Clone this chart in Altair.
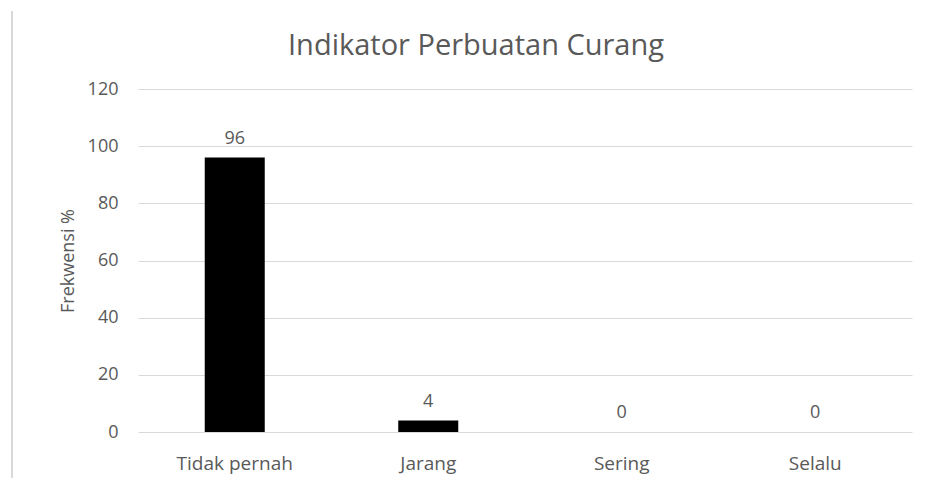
import altair as alt
import pandas as pd

categories = ["Tidak pernah", "Jarang", "Sering", "Selalu"]
values = [96, 4, 0, 0]
y_ticks = [0, 20, 40, 60, 80, 100, 120]
title_text = ["Indikator Perbuatan Curang"]

df = pd.DataFrame({"kategori": categories, "nilai": values})
tdf = pd.DataFrame({"t": title_text})

FONT = "Open Sans"
TXT = "#595959"

x = alt.X("kategori:N", sort=categories, title=None,
          axis=alt.Axis(labelAngle=0, labelFontSize=19, labelColor=TXT, labelFont=FONT,
                        labelPadding=22, ticks=False, domain=False, grid=False))
y = alt.Y("nilai:Q", title="Frekwensi %",
          scale=alt.Scale(domain=[0, 120], nice=False),
          axis=alt.Axis(values=y_ticks, labelFontSize=18, labelColor=TXT, labelFont=FONT,
                        labelPadding=20, ticks=False, domain=False, gridColor="#d9d9d9",
                        gridWidth=1, titleFontSize=18, titleColor=TXT, titleFont=FONT,
                        titleFontWeight="normal", titlePadding=10))

bars = alt.Chart(df).mark_bar(size=60, color="#000000").encode(x=x, y=y)
labels = alt.Chart(df).mark_text(baseline="bottom", dy=-10, fontSize=18, color=TXT, font=FONT).encode(
    x=alt.X("kategori:N", sort=categories), y="nilai:Q", text="nilai:Q")

title = alt.Chart(tdf).mark_text(fontSize=29, color=TXT, font=FONT, baseline="middle", align="center").encode(
    x=alt.value(338), y=alt.value(-43), text="t:N")

border = alt.Chart(df).mark_rule(color="#d9d9d9", strokeWidth=1.5).encode(
    x=alt.value(-126), y=alt.value(-78), y2=alt.value(390))

chart = alt.layer(border, bars, labels, title).properties(
    width=774, height=343,
    autosize=alt.AutoSizeParams(type="none"),
    padding={"left": 130, "top": 81, "right": 15, "bottom": 46},
).configure_view(stroke=None)

chart.save("out.html", embed_options={"renderer": "svg", "actions": False})
